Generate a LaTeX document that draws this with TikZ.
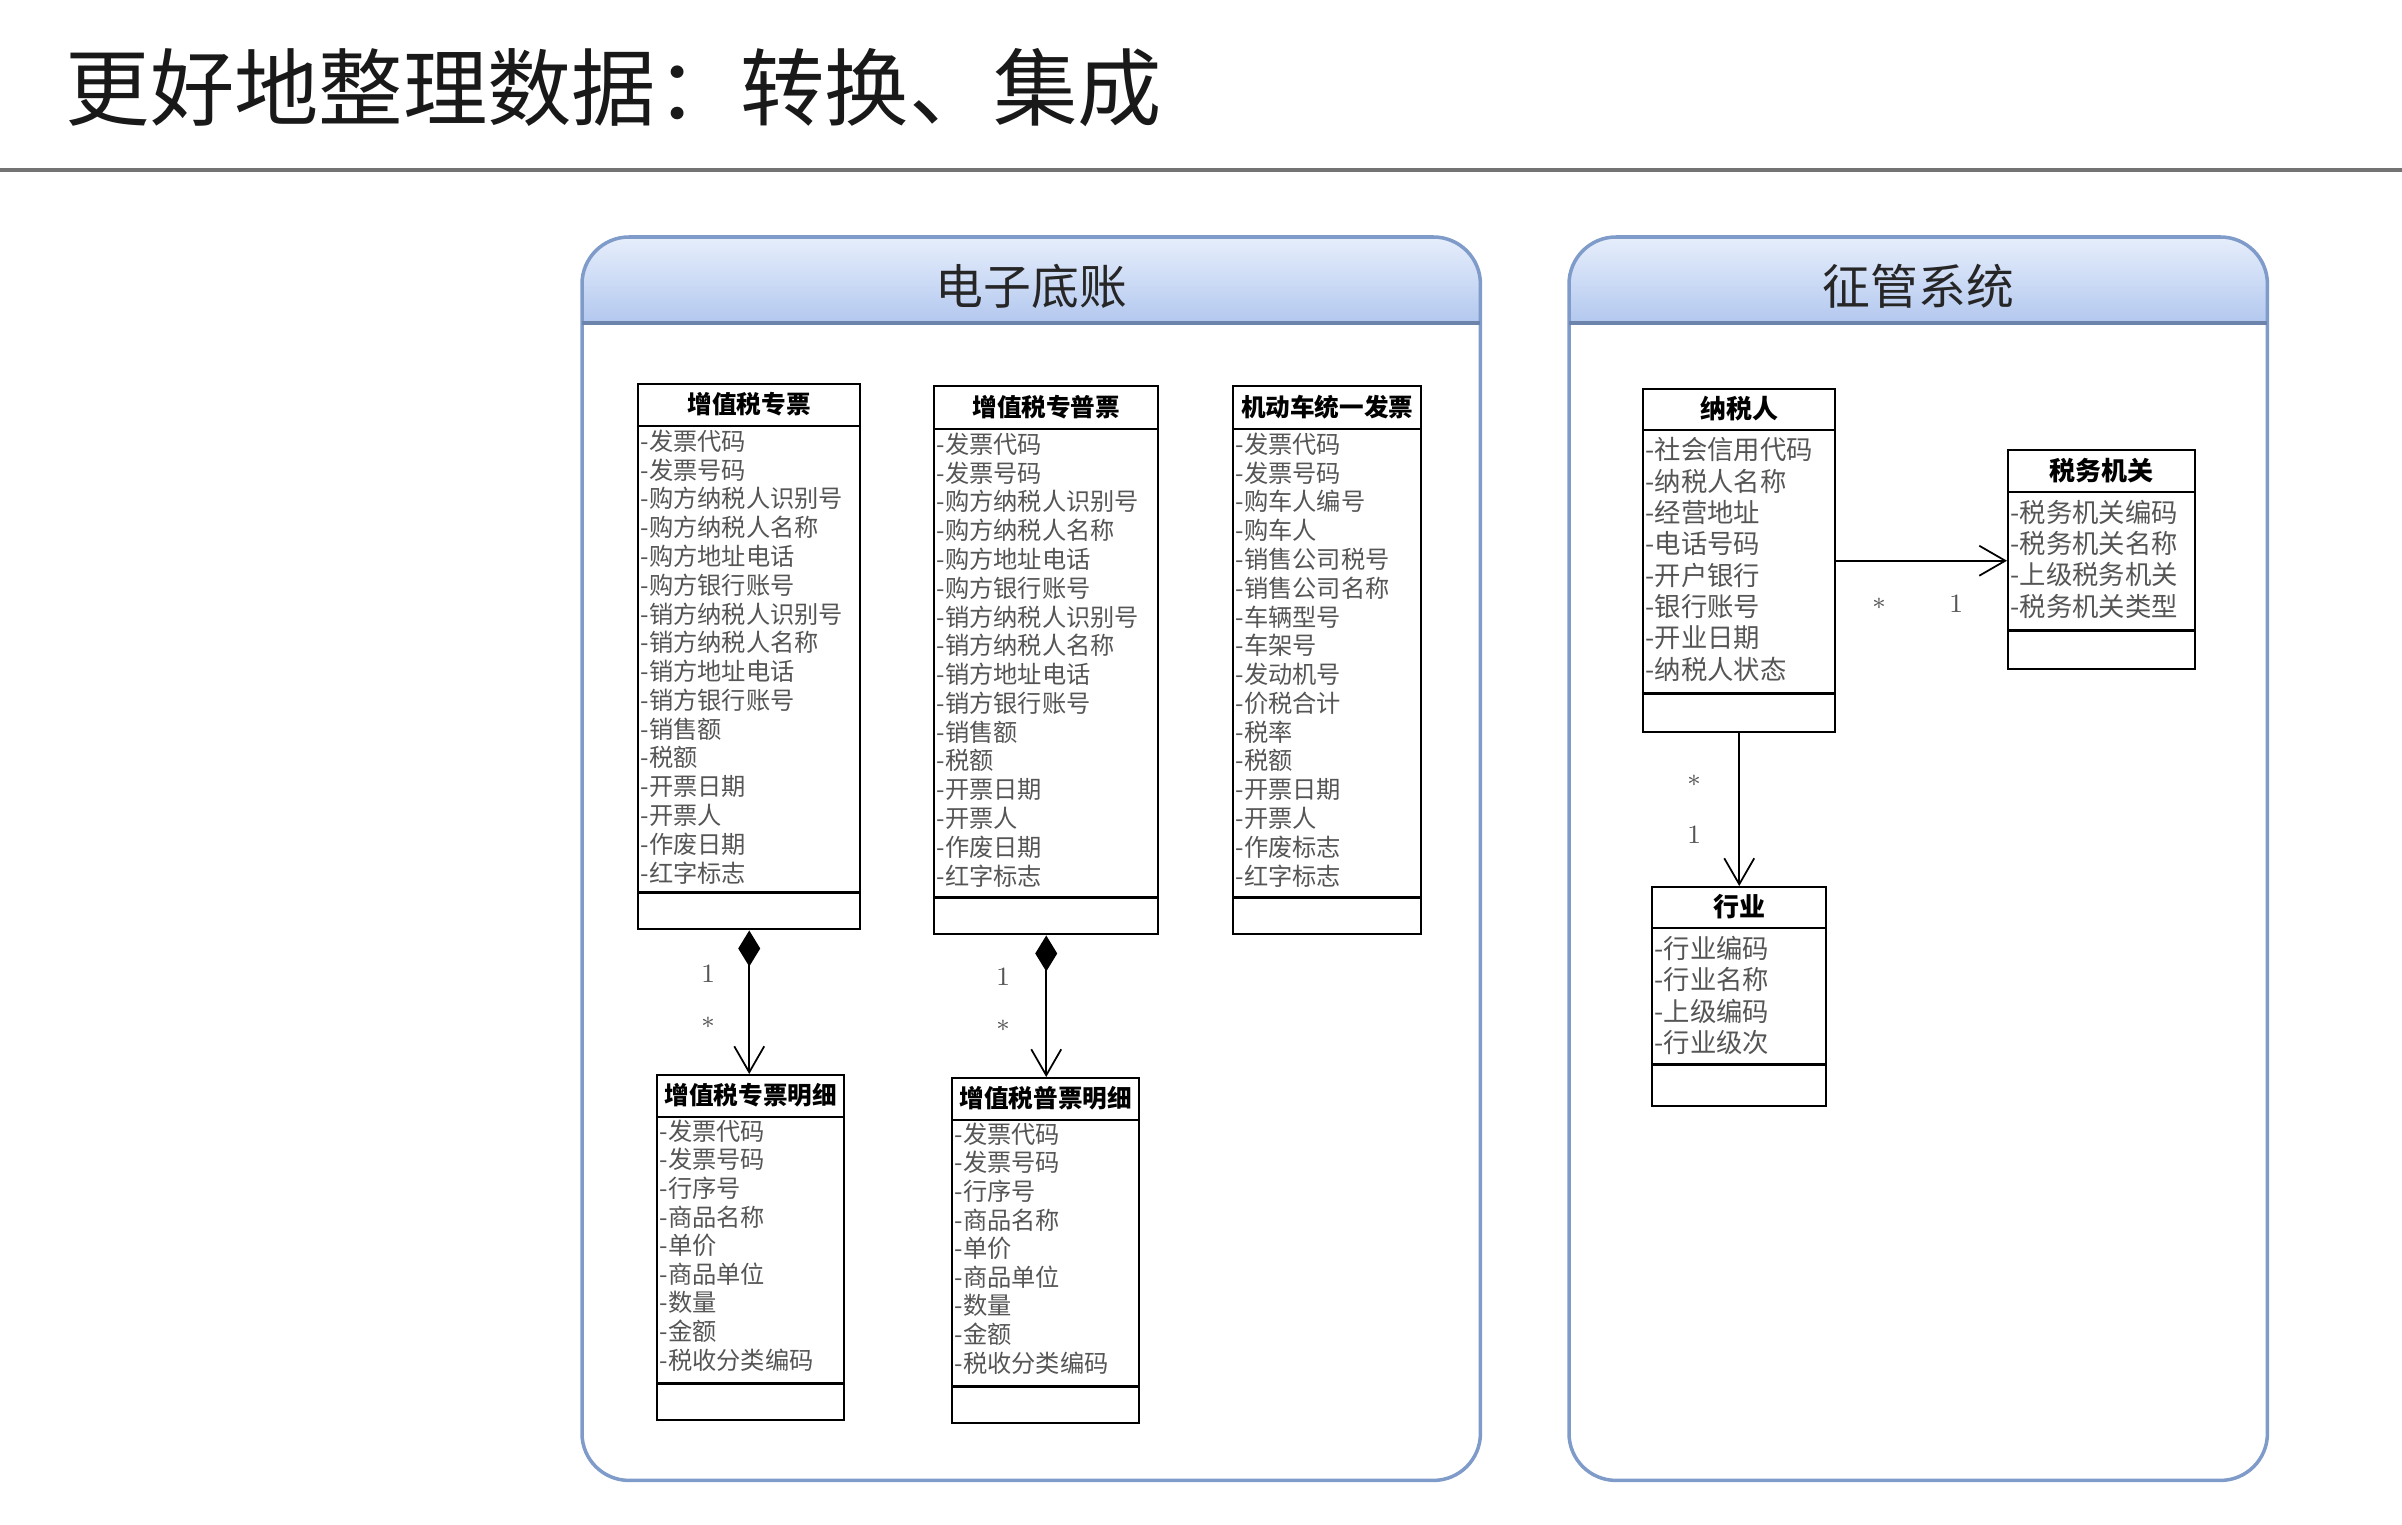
\documentclass[tikz,border=0pt]{standalone}
\usepackage{fontspec}
\usepackage{tikz}
\usetikzlibrary{arrows.meta, positioning, calc}
\newfontfamily\cjk{Noto Sans CJK SC}
\definecolor{bandtop}{HTML}{E6EEFB}
\definecolor{bandbot}{HTML}{B3C8EF}
\definecolor{panelline}{HTML}{7F9BC9}
\definecolor{attrgray}{HTML}{555555}

\begin{document}
\begin{tikzpicture}[
  cls/.style={draw, line width=0.7pt, anchor=north west, inner sep=0pt},
  clsname/.style={font=\cjk\bfseries\fontsize{7}{8}\selectfont, inner sep=0pt},
  clsnameR/.style={font=\cjk\bfseries\fontsize{7.4}{8}\selectfont, inner sep=0pt},
  attr/.style={font=\cjk\fontsize{6.9}{8}\selectfont, text=attrgray, anchor=west, inner sep=0pt},
  attrR/.style={attr, font=\cjk\fontsize{7.5}{8}\selectfont},
  mult/.style={font=\fontsize{7.5}{8}\selectfont, text=attrgray, inner sep=0pt},
  comp/.style={line width=0.5pt, arrows={Diamond[length=3.6mm,width=2.2mm]-Straight Barb[length=2.6mm,width=3mm]}},
  assoc/.style={line width=0.5pt, arrows={-Straight Barb[length=2.6mm,width=3mm]}},
  panelname/.style={font=\cjk\fontsize{13.6}{15}\selectfont, text=black!85},
]
\useasboundingbox (0,0) rectangle (24.02,-15.24);

% title and rule
\node[anchor=west, inner sep=0pt, font=\cjk\fontsize{24}{28}\selectfont, text=black!90] (title) at (0.65,-0.88) {更好地整理数据：转换、集成};
\draw[line width=0.9pt, black!55] (0,-1.70) -- (24.02,-1.70);

% panels
\node[minimum width=8.97cm, minimum height=12.42cm, anchor=north west, inner sep=0pt] (dzdz) at (5.82,-2.37) {};
\node[minimum width=6.97cm, minimum height=12.42cm, anchor=north west, inner sep=0pt] (zgxt) at (15.69,-2.37) {};
\foreach \p in {dzdz,zgxt} {
  \begin{scope}
    \clip[rounded corners=4.7mm] (\p.north west) rectangle (\p.south east);
    \shade[top color=bandtop, bottom color=bandbot] (\p.north west) rectangle ([yshift=-8.6mm]\p.north east);
  \end{scope}
  \draw[panelline, line width=1pt, rounded corners=4.7mm] (\p.north west) rectangle (\p.south east);
  \draw[panelline!85!black, line width=1.2pt] ([yshift=-8.6mm]\p.north west) -- ([yshift=-8.6mm]\p.north east);
}
\node[panelname] (dzdzT) at ([yshift=-4.9mm]dzdz.north) {电子底账};
\node[panelname] (zgxtT) at ([yshift=-4.9mm]zgxt.north) {征管系统};

% 增值税专票
\node[cls, minimum width=2.22cm, minimum height=5.45cm] (zp) at (6.37,-3.83) {};
\node[clsname] (zpT) at ([yshift=-2.15mm]zp.north) {增值税专票};
\draw[line width=0.7pt] ([yshift=-4.3mm]zp.north west) -- ([yshift=-4.3mm]zp.north east);
\draw[line width=0.7pt] ([yshift=3.8mm]zp.south west) -- ([yshift=3.8mm]zp.south east);
\foreach \a [count=\i] in {发票代码,发票号码,购方纳税人识别号,购方纳税人名称,购方地址电话,购方银行账号,销方纳税人识别号,销方纳税人名称,销方地址电话,销方银行账号,销售额,税额,开票日期,开票人,作废日期,红字标志}
  \node[attr] (zp-\i) at ([xshift=0.3mm, yshift={-(5.8+(\i-1)*2.88)*1mm}]zp.north west) {-\a};

% 增值税专普票
\node[cls, minimum width=2.24cm, minimum height=5.48cm] (pp) at (9.33,-3.85) {};
\node[clsname] (ppT) at ([yshift=-2.2mm]pp.north) {增值税专普票};
\draw[line width=0.7pt] ([yshift=-4.4mm]pp.north west) -- ([yshift=-4.4mm]pp.north east);
\draw[line width=0.7pt] ([yshift=3.8mm]pp.south west) -- ([yshift=3.8mm]pp.south east);
\foreach \a [count=\i] in {发票代码,发票号码,购方纳税人识别号,购方纳税人名称,购方地址电话,购方银行账号,销方纳税人识别号,销方纳税人名称,销方地址电话,销方银行账号,销售额,税额,开票日期,开票人,作废日期,红字标志}
  \node[attr] (pp-\i) at ([xshift=0.3mm, yshift={-(5.9+(\i-1)*2.88)*1mm}]pp.north west) {-\a};

% 机动车统一发票
\node[cls, minimum width=1.88cm, minimum height=5.48cm] (jd) at (12.32,-3.85) {};
\node[clsname] (jdT) at ([yshift=-2.2mm]jd.north) {机动车统一发票};
\draw[line width=0.7pt] ([yshift=-4.4mm]jd.north west) -- ([yshift=-4.4mm]jd.north east);
\draw[line width=0.7pt] ([yshift=3.8mm]jd.south west) -- ([yshift=3.8mm]jd.south east);
\foreach \a [count=\i] in {发票代码,发票号码,购车人编号,购车人,销售公司税号,销售公司名称,车辆型号,车架号,发动机号,价税合计,税率,税额,开票日期,开票人,作废标志,红字标志}
  \node[attr] (jd-\i) at ([xshift=0.3mm, yshift={-(5.9+(\i-1)*2.88)*1mm}]jd.north west) {-\a};

% 增值税专票明细
\node[cls, minimum width=1.87cm, minimum height=3.45cm] (zpmx) at (6.56,-10.74) {};
\node[clsname] (zpmxT) at ([yshift=-2.15mm]zpmx.north) {增值税专票明细};
\draw[line width=0.7pt] ([yshift=-4.3mm]zpmx.north west) -- ([yshift=-4.3mm]zpmx.north east);
\draw[line width=0.7pt] ([yshift=3.8mm]zpmx.south west) -- ([yshift=3.8mm]zpmx.south east);
\foreach \a [count=\i] in {发票代码,发票号码,行序号,商品名称,单价,商品单位,数量,金额,税收分类编码}
  \node[attr] (zpmx-\i) at ([xshift=0.3mm, yshift={-(5.7+(\i-1)*2.86)*1mm}]zpmx.north west) {-\a};

% 增值税普票明细
\node[cls, minimum width=1.87cm, minimum height=3.45cm] (ppmx) at (9.51,-10.77) {};
\node[clsname] (ppmxT) at ([yshift=-2.15mm]ppmx.north) {增值税普票明细};
\draw[line width=0.7pt] ([yshift=-4.3mm]ppmx.north west) -- ([yshift=-4.3mm]ppmx.north east);
\draw[line width=0.7pt] ([yshift=3.8mm]ppmx.south west) -- ([yshift=3.8mm]ppmx.south east);
\foreach \a [count=\i] in {发票代码,发票号码,行序号,商品名称,单价,商品单位,数量,金额,税收分类编码}
  \node[attr] (ppmx-\i) at ([xshift=0.3mm, yshift={-(5.7+(\i-1)*2.86)*1mm}]ppmx.north west) {-\a};

% 纳税人
\node[cls, minimum width=1.92cm, minimum height=3.43cm] (nsr) at (16.42,-3.88) {};
\node[clsnameR] (nsrT) at ([yshift=-2.1mm]nsr.north) {纳税人};
\draw[line width=0.7pt] ([yshift=-4.2mm]nsr.north west) -- ([yshift=-4.2mm]nsr.north east);
\draw[line width=0.7pt] ([yshift=4mm]nsr.south west) -- ([yshift=4mm]nsr.south east);
\foreach \a [count=\i] in {社会信用代码,纳税人名称,经营地址,电话号码,开户银行,银行账号,开业日期,纳税人状态}
  \node[attrR] (nsr-\i) at ([xshift=0.3mm, yshift={-(6.2+(\i-1)*3.13)*1mm}]nsr.north west) {-\a};

% 税务机关
\node[cls, minimum width=1.87cm, minimum height=2.19cm] (swjg) at (20.07,-4.49) {};
\node[clsnameR] (swjgT) at ([yshift=-2.15mm]swjg.north) {税务机关};
\draw[line width=0.7pt] ([yshift=-4.3mm]swjg.north west) -- ([yshift=-4.3mm]swjg.north east);
\draw[line width=0.7pt] ([yshift=4mm]swjg.south west) -- ([yshift=4mm]swjg.south east);
\foreach \a [count=\i] in {税务机关编码,税务机关名称,上级税务机关,税务机关类型}
  \node[attrR] (swjg-\i) at ([xshift=0.3mm, yshift={-(6.3+(\i-1)*3.15)*1mm}]swjg.north west) {-\a};

% 行业
\node[cls, minimum width=1.74cm, minimum height=2.19cm] (hy) at (16.51,-8.86) {};
\node[clsnameR] (hyT) at ([yshift=-2.1mm]hy.north) {行业};
\draw[line width=0.7pt] ([yshift=-4.2mm]hy.north west) -- ([yshift=-4.2mm]hy.north east);
\draw[line width=0.7pt] ([yshift=4.3mm]hy.south west) -- ([yshift=4.3mm]hy.south east);
\foreach \a [count=\i] in {行业编码,行业名称,上级编码,行业级次}
  \node[attrR] (hy-\i) at ([xshift=0.3mm, yshift={-(6.2+(\i-1)*3.15)*1mm}]hy.north west) {-\a};

% connectors
\draw[comp] (zp.south) -- (zp.south |- zpmx.north);
\draw[comp] (pp.south) -- (pp.south |- ppmx.north);
\draw[assoc] (nsr.east) -- (swjg.west |- nsr.east);
\draw[assoc] (nsr.south) -- (nsr.south |- hy.north);

% multiplicities
\node[mult] (m1a) at (7.08,-9.74) {1};
\node[mult] (m1b) at (7.08,-10.23) {$*$};
\node[mult] (m2a) at (10.03,-9.77) {1};
\node[mult] (m2b) at (10.03,-10.26) {$*$};
\node[mult] (m3a) at (18.79,-6.04) {$*$};
\node[mult] (m3b) at (19.56,-6.04) {1};
\node[mult] (m4a) at (16.94,-7.81) {$*$};
\node[mult] (m4b) at (16.94,-8.35) {1};
\end{tikzpicture}
\end{document}
